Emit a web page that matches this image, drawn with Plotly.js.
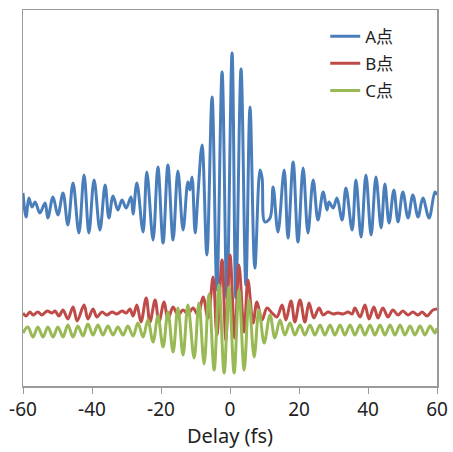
<!DOCTYPE html>
<html><head><meta charset="utf-8">
<script src="https://cdn.plot.ly/plotly-3.0.1.min.js"></script>
<style>html,body{margin:0;padding:0;background:#fff}</style>
</head><body><div id="chart" style="width:453px;height:452px"></div>
<script>
const seriesNames = ['A点', 'B点', 'C点'];
const seriesColors = ['#4A7EBB', '#BE4B48', '#98B954'];

const delayA = [-60.0,-59.1,-58.3,-57.4,-56.5,-55.1,-53.6,-52.8,-51.3,-49.9,-48.4,-47.0,-45.5,-43.8,-42.3,-40.9,-39.4,-37.7,-36.2,-35.1,-33.9,-32.5,-31.3,-30.1,-28.7,-28.1,-27.0,-25.2,-24.1,-22.3,-20.9,-19.4,-18.0,-16.5,-15.1,-13.6,-12.2,-11.6,-11.0,-10.1,-9.3,-8.1,-6.7,-5.2,-3.8,-2.3,-0.9,0.6,1.7,3.2,4.6,5.8,7.2,8.7,9.3,10.1,11.6,12.5,13.9,15.7,16.8,18.3,19.7,21.2,22.6,24.1,25.5,27.0,28.1,28.7,29.9,31.0,32.5,33.6,35.4,36.5,38.0,39.4,40.9,42.3,43.8,44.9,46.1,47.5,48.7,50.1,51.6,53.0,54.5,55.9,57.7,59.4,60.0];
const valueA = [193,169,188,179,184,173,183,168,189,171,193,161,203,153,211,153,206,156,201,168,190,176,186,178,189,172,203,154,214,146,219,143,221,146,215,156,204,196,209,153,191,241,131,289,96,314,88,333,88,317,101,279,118,216,208,164,168,199,154,216,148,224,144,218,153,206,166,194,176,184,178,188,166,198,156,206,149,211,151,209,158,202,163,196,164,194,168,191,169,188,168,194,191];

const delayB = [-60.0,-59.1,-58.0,-57.1,-55.7,-54.5,-53.0,-51.6,-50.7,-49.6,-48.4,-47.0,-45.5,-44.3,-42.3,-41.2,-39.7,-38.6,-37.1,-35.7,-34.2,-32.8,-31.3,-30.1,-29.0,-28.1,-27.0,-25.8,-24.3,-23.2,-21.7,-20.6,-19.1,-18.0,-16.5,-15.1,-13.6,-12.2,-10.7,-9.3,-7.8,-6.4,-4.9,-3.8,-2.3,-1.2,0.0,1.4,2.6,4.1,5.2,6.7,7.8,9.3,10.7,12.2,13.6,15.1,16.2,17.7,18.8,20.3,21.7,22.9,24.3,25.8,27.0,28.4,29.9,31.3,32.8,34.2,35.4,36.2,37.7,39.1,40.3,41.7,42.9,44.3,45.8,47.2,48.7,50.1,51.6,53.0,54.5,55.7,57.1,58.8,60.0];
const valueB = [73,70,74,71,74,71,75,73,75,70,76,67,79,65,81,67,77,69,74,71,74,72,75,73,77,70,81,64,88,64,86,64,84,67,79,71,76,72,78,71,89,68,109,51,126,46,131,48,121,54,106,63,84,66,78,73,69,81,66,85,64,86,64,83,68,78,71,74,72,73,72,74,72,78,69,81,67,79,68,78,69,76,71,75,71,74,71,74,70,76,77];

const delayC = [-60.0,-58.6,-57.1,-55.7,-54.2,-52.8,-51.3,-49.9,-48.4,-47.0,-45.5,-44.1,-42.6,-41.2,-39.7,-38.3,-36.8,-35.4,-33.9,-32.5,-31.0,-29.6,-28.1,-26.7,-25.2,-23.8,-22.3,-20.9,-19.4,-18.0,-16.5,-15.1,-13.6,-12.2,-10.4,-9.0,-7.5,-6.1,-4.6,-3.2,-1.7,-0.3,1.2,2.6,4.1,5.5,7.0,8.4,9.9,11.6,13.0,14.5,15.9,17.4,18.8,20.3,21.7,23.2,24.6,26.1,27.5,29.0,30.4,31.9,33.3,34.8,36.2,37.7,39.1,40.6,42.0,43.5,44.9,46.4,47.8,49.3,50.7,52.2,53.6,55.1,56.5,58.0,59.4,60.0];
const valueC = [53,59,49,59,49,59,49,59,49,61,49,60,50,62,51,61,51,60,51,59,51,60,50,63,49,66,44,70,39,74,34,78,31,81,28,83,22,92,16,101,13,99,13,96,16,86,29,76,43,71,48,66,51,63,51,61,51,61,51,61,51,61,51,61,51,61,51,61,51,61,51,61,51,61,51,61,51,60,51,60,51,60,53,58];

const tickValues = [-60, -40, -20, 0, 20, 40, 60];
const tickLabels = ['-60', '-40', '-20', '0', '20', '40', '60'];
const xTitle = 'Delay (fs)';

const delays = [delayA, delayB, delayC];
const values = [valueA, valueB, valueC];

const traces = seriesNames.map((name, i) => ({
  type: 'scatter', mode: 'lines', name: name, legendgroup: 'g' + i,
  x: delays[i], y: values[i],
  line: {color: seriesColors[i], width: 3, shape: 'spline', smoothing: 1},
  hoverinfo: 'skip'
}));

const fontFam = 'Noto Sans, Noto Sans CJK SC, sans-serif';
const layout = {
  width: 453, height: 452,
  margin: {l: 23, r: 16, t: 10, b: 66},
  paper_bgcolor: '#ffffff', plot_bgcolor: '#ffffff',
  font: {family: fontFam, size: 15, color: '#222222'},
  showlegend: true,
  legend: {x: 0.73, y: 0.977, xanchor: 'left', yanchor: 'top', bgcolor: 'rgba(0,0,0,0)',
           font: {family: fontFam, size: 17, color: '#222222'}, tracegroupgap: 2},
  xaxis: {
    range: [-60, 60], tickmode: 'array', tickvals: tickValues, ticktext: tickLabels,
    showgrid: false, zeroline: false, showline: true, linecolor: '#9a9a9a', linewidth: 1.5, mirror: true,
    ticks: 'outside', ticklen: 6, tickcolor: '#9a9a9a',
    tickfont: {family: fontFam, size: 19, color: '#222222'},
    title: {text: xTitle, font: {family: fontFam, size: 20, color: '#222222'}, standoff: 2}
  },
  yaxis: {
    range: [0, 376], showticklabels: false, ticks: '', showgrid: false, zeroline: false,
    showline: true, linecolor: '#9a9a9a', linewidth: 1.5, mirror: true
  }
};
Plotly.newPlot('chart', traces, layout, {displayModeBar: false, staticPlot: true});
</script></body></html>
